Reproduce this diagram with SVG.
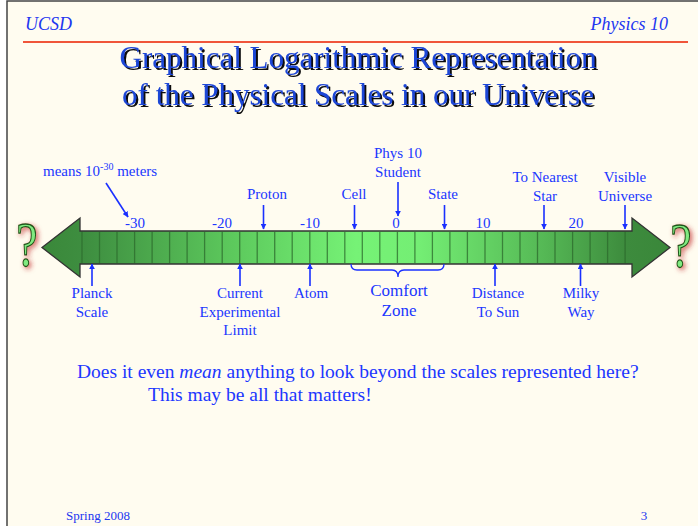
<svg xmlns="http://www.w3.org/2000/svg" width="698" height="526" viewBox="0 0 698 526">
<style>
.hdr{font-family:"Liberation Serif",serif;font-style:italic;font-size:18px;fill:#2236f0}
.ttl{font-family:"Liberation Serif",serif;font-size:31px;text-anchor:middle;fill:#1f46d6}
.lbl{font-family:"Liberation Serif",serif;font-size:15px;fill:#2036ff;text-anchor:middle}
.big{font-family:"Liberation Serif",serif;font-size:17px;fill:#2036ff;text-anchor:middle}
.txt{font-family:"Liberation Serif",serif;font-size:19.5px;fill:#2036ff}
.ftr{font-family:"Liberation Serif",serif;font-size:13px;fill:#2236f0}
.arr{stroke:#1a30ff;stroke-width:1.6;fill:none;marker-end:url(#ah)}
.cell{stroke:#2c6a2c;stroke-width:1.3;stroke-opacity:0.75}
.q{font-family:"Liberation Serif",serif;font-size:64px;fill:#80ea80;stroke:#1b551b;stroke-width:1.3;text-anchor:middle}
</style>
<defs>
<marker id="ah" viewBox="0 0 10 10" refX="9" refY="5" markerWidth="6" markerHeight="6" orient="auto" markerUnits="userSpaceOnUse">
<path d="M0,0 L10,5 L0,10 z" fill="#1a30ff"/>
</marker>
<linearGradient id="bar" gradientUnits="userSpaceOnUse" x1="42" y1="0" x2="670" y2="0">
<stop offset="0" stop-color="#3a883a"/>
<stop offset="0.07" stop-color="#3e8e40"/>
<stop offset="0.3" stop-color="#5cc85c"/>
<stop offset="0.5" stop-color="#76f276"/>
<stop offset="0.6" stop-color="#74ee74"/>
<stop offset="0.8" stop-color="#55b855"/>
<stop offset="0.93" stop-color="#3d8b3d"/>
<stop offset="1" stop-color="#3a873a"/>
</linearGradient>
<filter id="glow" x="-50%" y="-50%" width="200%" height="200%">
<feGaussianBlur in="SourceAlpha" stdDeviation="2.5" result="b"/>
<feOffset in="b" dx="2" dy="2" result="o"/>
<feFlood flood-color="#c02828" flood-opacity="0.75"/>
<feComposite in2="o" operator="in" result="s"/>
<feMerge><feMergeNode in="s"/><feMergeNode in="SourceGraphic"/></feMerge>
</filter>
<filter id="shadow" x="-10%" y="-30%" width="120%" height="160%">
<feDropShadow dx="2" dy="2" stdDeviation="0.4" flood-color="#111" flood-opacity="1"/>
</filter>
</defs>
<rect x="0" y="0" width="698" height="526" fill="#ffffff"/>
<rect x="7" y="1" width="700" height="530" fill="#fffcf0" stroke="#444" stroke-width="1.5"/>

<g id="header">
<text class="hdr" x="25" y="30">UCSD</text>
<text class="hdr" x="668" y="30" text-anchor="end">Physics 10</text>
<line x1="23" y1="42" x2="688" y2="42" stroke="#f0553a" stroke-width="2"/>
</g>

<g id="title" filter="url(#shadow)">
<text class="ttl" x="358" y="68">Graphical Logarithmic Representation</text>
<text class="ttl" x="358" y="105">of the Physical Scales in our Universe</text>
</g>

<g id="scale-bar">
<polygon points="42,247.5 80,218 80,231 632,231 632,218 670,247.5 632,277 632,264 80,264 80,277" fill="url(#bar)" stroke="#333" stroke-width="1.3" stroke-linejoin="miter"/>
<g class="cell">
<line x1="82" y1="232" x2="82" y2="263"/><line x1="99.5" y1="232" x2="99.5" y2="263"/><line x1="117" y1="232" x2="117" y2="263"/><line x1="134.6" y1="232" x2="134.6" y2="263"/><line x1="152.1" y1="232" x2="152.1" y2="263"/><line x1="169.6" y1="232" x2="169.6" y2="263"/><line x1="187.1" y1="232" x2="187.1" y2="263"/><line x1="204.6" y1="232" x2="204.6" y2="263"/><line x1="222.2" y1="232" x2="222.2" y2="263"/><line x1="239.7" y1="232" x2="239.7" y2="263"/><line x1="257.2" y1="232" x2="257.2" y2="263"/><line x1="274.7" y1="232" x2="274.7" y2="263"/><line x1="292.2" y1="232" x2="292.2" y2="263"/><line x1="309.8" y1="232" x2="309.8" y2="263"/><line x1="327.3" y1="232" x2="327.3" y2="263"/><line x1="344.8" y1="232" x2="344.8" y2="263"/><line x1="362.3" y1="232" x2="362.3" y2="263"/><line x1="379.8" y1="232" x2="379.8" y2="263"/><line x1="397.4" y1="232" x2="397.4" y2="263"/><line x1="414.9" y1="232" x2="414.9" y2="263"/><line x1="432.4" y1="232" x2="432.4" y2="263"/><line x1="449.9" y1="232" x2="449.9" y2="263"/><line x1="467.4" y1="232" x2="467.4" y2="263"/><line x1="485" y1="232" x2="485" y2="263"/><line x1="502.5" y1="232" x2="502.5" y2="263"/><line x1="520" y1="232" x2="520" y2="263"/><line x1="537.5" y1="232" x2="537.5" y2="263"/><line x1="555" y1="232" x2="555" y2="263"/><line x1="572.6" y1="232" x2="572.6" y2="263"/><line x1="590.1" y1="232" x2="590.1" y2="263"/><line x1="607.6" y1="232" x2="607.6" y2="263"/><line x1="625.1" y1="232" x2="625.1" y2="263"/>
</g>
<text class="lbl" x="135" y="228">-30</text>
<text class="lbl" x="222" y="228">-20</text>
<text class="lbl" x="310" y="228">-10</text>
<text class="lbl" x="396" y="228">0</text>
<text class="lbl" x="483" y="228">10</text>
<text class="lbl" x="576" y="228">20</text>
</g>

<g id="q-left" filter="url(#glow)"><text class="q" transform="translate(27,266) scale(0.75,1)">?</text></g>
<g id="q-right" filter="url(#glow)"><text class="q" transform="translate(681,267) scale(0.75,1)">?</text></g>

<g id="means"><text class="lbl" x="43" y="176" style="text-anchor:start">means 10<tspan font-size="10" dy="-6">-30</tspan><tspan dy="6"> meters</tspan></text></g>
<g id="proton"><text class="lbl" x="267" y="199">Proton</text></g>
<g id="cell"><text class="lbl" x="354" y="199">Cell</text></g>
<g id="student"><text class="lbl" x="398" y="158">Phys 10</text><text class="lbl" x="398" y="177">Student</text></g>
<g id="state"><text class="lbl" x="443" y="199">State</text></g>
<g id="star"><text class="lbl" x="545" y="182">To Nearest</text><text class="lbl" x="545" y="201">Star</text></g>
<g id="universe"><text class="lbl" x="625" y="182">Visible</text><text class="lbl" x="625" y="201">Universe</text></g>
<g id="planck"><text class="lbl" x="92" y="298">Planck</text><text class="lbl" x="92" y="317">Scale</text></g>
<g id="limit"><text class="lbl" x="240" y="298">Current</text><text class="lbl" x="240" y="317">Experimental</text><text class="lbl" x="240" y="335">Limit</text></g>
<g id="atom"><text class="lbl" x="311" y="298">Atom</text></g>
<g id="comfort"><text class="big" x="399" y="296">Comfort</text><text class="big" x="399" y="316">Zone</text></g>
<g id="sun"><text class="lbl" x="498" y="298">Distance</text><text class="lbl" x="498" y="317">To Sun</text></g>
<g id="milky"><text class="lbl" x="581" y="298">Milky</text><text class="lbl" x="581" y="317">Way</text></g>

<g id="connectors">
<line class="arr" x1="106" y1="183" x2="128" y2="217"/>
<line class="arr" x1="263.5" y1="205" x2="263.5" y2="229"/>
<line class="arr" x1="354.5" y1="205" x2="354.5" y2="229"/>
<line class="arr" x1="398" y1="182" x2="398" y2="216"/>
<line class="arr" x1="444.5" y1="205" x2="444.5" y2="229"/>
<line class="arr" x1="544" y1="205" x2="544" y2="229"/>
<line class="arr" x1="625" y1="205" x2="625" y2="229"/>
<line class="arr" x1="92" y1="286" x2="92" y2="264"/>
<line class="arr" x1="240" y1="286" x2="240" y2="264"/>
<line class="arr" x1="310" y1="286" x2="310" y2="264"/>
<line class="arr" x1="495" y1="286" x2="495" y2="264"/>
<line class="arr" x1="580.5" y1="286" x2="580.5" y2="264"/>
<path d="M351,264 Q351,270 357,270 L392,270 Q398,270 398,277 Q398,270 404,270 L438,270 Q444,270 444,264" fill="none" stroke="#1a30ff" stroke-width="1.3"/>
</g>

<g id="question">
<text class="txt" x="77" y="378">Does it even <tspan font-style="italic">mean</tspan> anything to look beyond the scales represented here?</text>
<text class="txt" x="148" y="401">This may be all that matters!</text>
</g>

<g id="footer">
<text class="ftr" x="66" y="520">Spring 2008</text>
<text class="ftr" x="644" y="520" text-anchor="middle">3</text>
</g>
</svg>
